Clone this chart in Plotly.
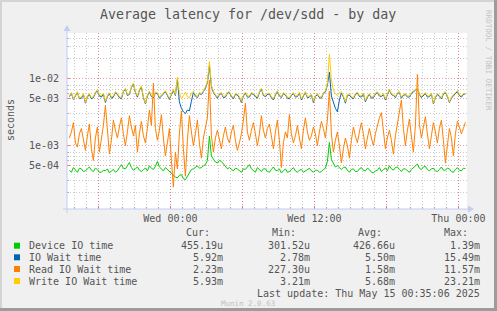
import math
import plotly.graph_objects as go
from datetime import datetime, timedelta

# ---------------- data (10-minute samples, values in milliseconds) ----------------
start_time = datetime(2025, 5, 13, 15, 35)
step_minutes = 10

device_io_ms = [0.43, 0.40, 0.47, 0.44, 0.40, 0.46, 0.45, 0.41, 0.42, 0.45, 0.48, 0.43, 0.41, 0.46, 0.44, 0.40, 0.40, 0.43, 0.42, 0.45,
                0.39, 0.42, 0.44, 0.40, 0.42, 0.47, 0.52, 0.46, 0.45, 0.50, 0.56, 0.47, 0.43, 0.45, 0.48, 0.43, 0.41, 0.44, 0.46, 0.42,
                0.50, 0.46, 0.44, 0.49, 0.58, 0.48, 0.45, 0.42, 0.47, 0.44, 0.40, 0.38, 0.36, 0.34, 0.33, 0.36, 0.37, 0.32, 0.31, 0.35,
                0.40, 0.44, 0.45, 0.48, 0.50, 0.46, 0.47, 0.50, 0.52, 0.60, 1.39, 0.70, 0.62, 0.57, 0.55, 0.60, 0.58, 0.53, 0.50, 0.45,
                0.47, 0.44, 0.42, 0.46, 0.45, 0.42, 0.40, 0.45, 0.44, 0.48, 0.52, 0.45, 0.43, 0.40, 0.47, 0.43, 0.41, 0.45, 0.45, 0.41,
                0.40, 0.44, 0.48, 0.43, 0.42, 0.45, 0.39, 0.42, 0.45, 0.40, 0.41, 0.44, 0.47, 0.42, 0.40, 0.43, 0.44, 0.40, 0.42, 0.45,
                0.46, 0.42, 0.40, 0.43, 0.43, 0.40, 0.41, 0.44, 0.46, 0.58, 1.12, 0.62, 0.55, 0.48, 0.50, 0.46, 0.44, 0.47, 0.48, 0.43,
                0.40, 0.44, 0.45, 0.41, 0.41, 0.45, 0.47, 0.43, 0.42, 0.46, 0.44, 0.40, 0.39, 0.42, 0.43, 0.47, 0.41, 0.44, 0.46, 0.42,
                0.50, 0.45, 0.43, 0.47, 0.48, 0.44, 0.41, 0.45, 0.45, 0.42, 0.40, 0.44, 0.47, 0.50, 0.53, 0.46, 0.44, 0.48, 0.49, 0.44,
                0.42, 0.45, 0.46, 0.42, 0.41, 0.44, 0.48, 0.43, 0.43, 0.46, 0.45, 0.41, 0.40, 0.44, 0.47, 0.43, 0.42, 0.46, 0.455]

io_wait_ms = [5.4, 6.0, 4.9, 5.6, 6.2, 5.0, 5.1, 5.8, 4.3, 5.3, 5.8, 5.0, 5.2, 6.1, 6.6, 5.5, 5.3, 5.9, 4.4, 5.4,
              6.0, 5.1, 5.3, 6.2, 5.8, 5.2, 5.0, 6.4, 7.0, 5.6, 5.8, 7.4, 8.3, 6.2, 5.3, 6.7, 7.5, 5.2, 4.2, 5.5,
              6.3, 5.4, 5.2, 6.1, 6.0, 5.1, 5.4, 5.9, 6.4, 5.5, 4.9, 5.8, 6.6, 5.6, 9.8, 4.5, 3.6, 3.2, 3.0, 3.4,
              3.3, 4.6, 6.2, 5.5, 5.2, 6.0, 5.8, 6.4, 7.2, 8.7, 15.5, 7.7, 6.2, 5.6, 5.1, 5.8, 6.0, 5.2, 5.3, 6.1,
              6.2, 5.4, 5.0, 5.8, 5.7, 5.2, 4.4, 5.5, 6.1, 5.3, 5.3, 6.0, 5.8, 5.4, 5.1, 6.2, 7.0, 5.6, 5.4, 5.8,
              5.9, 5.2, 4.8, 5.7, 6.4, 5.5, 5.2, 6.0, 5.7, 5.1, 5.0, 5.6, 6.0, 5.3, 5.4, 6.1, 4.8, 5.5, 6.2, 5.2,
              5.3, 5.7, 4.4, 5.4, 5.8, 5.2, 5.1, 6.0, 6.3, 8.0, 12.5, 5.5, 4.4, 3.6, 3.2, 4.8, 6.1, 5.3, 4.3, 5.6,
              5.7, 5.2, 5.0, 5.8, 6.1, 5.4, 5.3, 5.9, 4.5, 5.3, 5.8, 5.1, 5.2, 5.9, 6.2, 5.5, 5.4, 5.8, 4.8, 5.7,
              6.8, 5.8, 5.6, 5.2, 6.0, 6.2, 5.1, 5.6, 5.8, 5.3, 5.3, 6.0, 6.3, 6.7, 7.2, 5.8, 5.2, 5.5, 6.0, 5.3,
              5.4, 5.9, 4.2, 5.2, 5.8, 5.4, 5.0, 5.9, 6.2, 5.4, 4.4, 5.1, 5.6, 6.0, 6.4, 5.6, 5.3, 5.8, 5.92]

read_io_wait_ms = [1.3, 1.6, 2.2, 1.1, 0.95, 1.5, 1.8, 1.2, 0.85, 1.4, 2.1, 0.9, 0.6, 1.3, 1.9, 0.8, 1.2, 2.0, 4.0, 1.5,
                   0.75, 1.2, 2.4, 1.7, 1.3, 1.9, 2.6, 1.5, 1.0, 1.6, 2.8, 1.9, 1.4, 2.0, 0.8, 1.5, 2.3, 1.4, 1.1, 1.8,
                   3.4, 2.0, 8.5, 1.8, 1.2, 1.7, 2.9, 1.3, 0.7, 1.1, 1.8, 0.6, 0.24, 0.8, 0.45, 1.5, 3.3, 0.9, 0.35, 1.2,
                   2.8, 1.6, 1.0, 1.5, 2.4, 1.1, 0.65, 1.3, 1.9, 2.6, 9.5, 1.4, 0.8, 1.3, 1.7, 1.2, 0.9, 1.4, 1.9, 1.3,
                   1.1, 1.6, 2.0, 1.2, 0.85, 1.1, 1.5, 2.4, 4.3, 1.6, 1.2, 1.7, 2.2, 1.5, 1.0, 1.5, 2.8, 1.7, 1.3, 1.8,
                   2.1, 1.4, 0.9, 1.6, 2.4, 1.2, 0.47, 1.1, 1.6, 1.3, 2.9, 1.5, 1.1, 1.4, 2.0, 1.3, 0.9, 1.7, 2.6, 1.6,
                   1.2, 1.4, 1.9, 1.5, 1.0, 1.6, 2.3, 1.8, 1.3, 2.4, 6.5, 1.5, 0.8, 1.2, 1.6, 1.0, 0.55, 0.9, 1.3, 1.0,
                   0.65, 1.2, 1.9, 1.4, 1.1, 1.6, 2.2, 1.5, 0.9, 1.3, 1.8, 1.3, 1.0, 1.5, 2.0, 2.6, 3.1, 1.6, 0.9, 1.3,
                   1.7, 1.2, 0.75, 1.4, 2.1, 2.9, 4.8, 1.8, 1.0, 1.7, 2.5, 1.4, 0.8, 2.0, 11.57, 2.1, 1.3, 1.9, 2.7, 1.5,
                   0.9, 1.4, 2.2, 1.6, 1.1, 1.8, 2.4, 1.2, 0.55, 1.0, 1.8, 1.3, 0.7, 1.5, 2.3, 1.9, 1.5, 1.8, 2.23]

write_io_wait_ms = [5.6, 6.2, 5.0, 5.8, 6.4, 5.1, 5.3, 6.0, 4.4, 5.5, 6.0, 5.2, 5.4, 6.3, 6.8, 5.7, 5.6, 6.1, 4.6, 5.6,
                    6.2, 5.3, 5.5, 6.4, 6.0, 5.4, 5.2, 6.6, 7.2, 5.8, 6.0, 7.6, 8.6, 6.4, 5.5, 6.9, 7.8, 5.4, 4.3, 5.7,
                    6.5, 5.6, 5.4, 6.3, 6.2, 5.3, 5.6, 6.1, 6.6, 5.7, 5.1, 6.0, 6.9, 5.8, 10.5, 6.2, 5.0, 5.6, 6.3, 5.4,
                    5.2, 6.1, 6.5, 5.7, 5.4, 6.2, 6.0, 6.6, 7.5, 9.0, 18.0, 8.0, 6.5, 5.8, 5.3, 6.0, 6.2, 5.4, 5.5, 6.3,
                    6.4, 5.6, 5.2, 6.0, 5.9, 5.4, 4.6, 5.7, 6.3, 5.5, 5.5, 6.2, 6.0, 5.6, 5.3, 6.4, 7.2, 5.8, 5.6, 6.0,
                    6.1, 5.4, 5.0, 5.9, 6.6, 5.7, 5.4, 6.2, 5.9, 5.3, 5.2, 5.8, 6.2, 5.5, 5.6, 6.3, 5.0, 5.7, 6.4, 5.4,
                    5.5, 5.9, 4.6, 5.6, 6.0, 5.4, 5.3, 6.2, 6.5, 8.5, 23.2, 9.5, 6.8, 5.9, 5.6, 6.2, 6.4, 5.5, 4.5, 5.8,
                    5.9, 5.4, 5.2, 6.0, 6.3, 5.6, 5.5, 6.1, 4.7, 5.5, 6.0, 5.3, 5.4, 6.1, 6.4, 5.7, 5.6, 6.0, 5.0, 5.9,
                    7.0, 6.0, 5.8, 5.4, 6.2, 6.4, 5.3, 5.8, 6.0, 5.5, 5.5, 6.2, 6.5, 6.9, 7.4, 6.0, 5.4, 5.7, 6.2, 5.5,
                    5.6, 6.1, 4.3, 5.4, 6.0, 5.6, 5.2, 6.1, 6.4, 5.6, 4.5, 5.3, 5.8, 6.2, 6.6, 5.8, 5.5, 6.0, 5.93]

series_names = ["Device IO time", "IO Wait time", "Read IO Wait time", "Write IO Wait time"]
series_colors = ["#00CC00", "#0066B3", "#FF8000", "#FFCC00"]
cur_vals = ["455.19u", "5.92m", "2.23m", "5.93m"]
min_vals = ["301.52u", "2.78m", "227.30u", "3.21m"]
avg_vals = ["426.66u", "5.50m", "1.58m", "5.68m"]
max_vals = ["1.39m", "15.49m", "11.57m", "23.21m"]

x_tick_vals = [datetime(2025, 5, 13, 18), datetime(2025, 5, 14, 0), datetime(2025, 5, 14, 6),
               datetime(2025, 5, 14, 12), datetime(2025, 5, 14, 18), datetime(2025, 5, 15, 0)]
x_tick_text = ["", "Wed 00:00", "", "Wed 12:00", "", "Thu 00:00"]
y_tick_vals = [5e-4, 1e-3, 5e-3, 1e-2]
y_tick_text = ["5e-04", "1e-03", "5e-03", "1e-02"]
y_minor_vals = [2e-4, 3e-4, 6e-4, 7e-4, 8e-4, 2e-3, 3e-3, 6e-3, 7e-3, 8e-3, 2e-2, 3e-2, 4e-2]

# ---------------- figure ----------------
all_series = [device_io_ms, io_wait_ms, read_io_wait_ms, write_io_wait_ms]

W, H = 497, 311
PL, PR, PT, PB = 67, 467, 33, 209


def X(px):
    return (px - PL) / (PR - PL)


def Y(py):
    return (PB - py) / (PB - PT)


MONO = "DejaVu Sans Mono"
TXT = "#555555"

fig = go.Figure()
for name, color, vals in zip(series_names, series_colors, all_series):
    times = [start_time + timedelta(minutes=step_minutes * i) for i in range(len(vals))]
    fig.add_trace(go.Scatter(x=times, y=[v * 1e-3 for v in vals], mode="lines", name=name,
                             line=dict(color=color, width=1), hoverinfo="skip"))

fig.update_layout(
    width=W, height=H,
    margin=dict(l=PL, r=W - PR, t=PT, b=H - PB),
    paper_bgcolor="#F0F0F0", plot_bgcolor="#FFFFFF",
    showlegend=False,
    font=dict(family=MONO, size=10, color=TXT),
)
fig.update_xaxes(
    type="date",
    range=[datetime(2025, 5, 13, 15, 23), datetime(2025, 5, 15, 0, 43)],
    tickmode="array", tickvals=x_tick_vals, ticktext=x_tick_text,
    showgrid=True, gridcolor="rgba(235,80,80,0.55)", griddash="1px,2px", gridwidth=1,
    ticks="inside", ticklen=3, tickcolor="rgba(235,80,80,0.7)",
    minor=dict(dtick=3600000, tick0="2025-05-13 00:00", showgrid=True,
               gridcolor="rgba(150,150,150,0.5)", griddash="1px,2px", gridwidth=1,
               ticks="inside", ticklen=2, tickcolor="rgba(150,150,150,0.7)"),
    showline=False, zeroline=False, ticklabelstandoff=2,
    tickfont=dict(family=MONO, size=10, color=TXT),
)
fig.update_yaxes(
    type="log", range=[-3.946, -1.319],
    tickmode="array", tickvals=y_tick_vals, ticktext=y_tick_text, showticklabels=False,
    showgrid=True, gridcolor="rgba(235,80,80,0.55)", griddash="1px,2px", gridwidth=1,
    ticks="inside", ticklen=3, tickcolor="rgba(235,80,80,0.7)",
    minor=dict(tickmode="array", tickvals=y_minor_vals, showgrid=True,
               gridcolor="rgba(150,150,150,0.5)", griddash="1px,2px", gridwidth=1,
               ticks="inside", ticklen=2, tickcolor="rgba(150,150,150,0.7)"),
    showline=False, zeroline=False,
)

shapes = []
AX = "#C4CCF4"
# axes with arrows
shapes.append(dict(type="line", xref="paper", yref="paper", x0=X(63), x1=X(469), y0=Y(209), y1=Y(209),
                   line=dict(color=AX, width=1)))
shapes.append(dict(type="path", xref="paper", yref="paper",
                   path=f"M {X(468)} {Y(205.5)} L {X(474)} {Y(209)} L {X(468)} {Y(212.5)} Z",
                   fillcolor=AX, line=dict(color=AX, width=0)))
shapes.append(dict(type="line", xref="paper", yref="paper", x0=X(67), x1=X(67), y0=Y(213), y1=Y(30),
                   line=dict(color=AX, width=1)))
shapes.append(dict(type="path", xref="paper", yref="paper",
                   path=f"M {X(63.5)} {Y(31)} L {X(67)} {Y(25)} L {X(70.5)} {Y(31)} Z",
                   fillcolor=AX, line=dict(color=AX, width=0)))
# frame of the image
shapes.append(dict(type="rect", xref="paper", yref="paper", x0=X(494), x1=X(497), y0=Y(0), y1=Y(311),
                   fillcolor="#9C9C9C", line=dict(width=0)))
shapes.append(dict(type="rect", xref="paper", yref="paper", x0=X(0), x1=X(497), y0=Y(308), y1=Y(311),
                   fillcolor="#9C9C9C", line=dict(width=0)))
shapes.append(dict(type="rect", xref="paper", yref="paper", x0=X(0), x1=X(2), y0=Y(0), y1=Y(308),
                   fillcolor="#D4D4D4", line=dict(width=0)))
shapes.append(dict(type="rect", xref="paper", yref="paper", x0=X(0), x1=X(494), y0=Y(0), y1=Y(2),
                   fillcolor="#D4D4D4", line=dict(width=0)))

annotations = []


def txt(text, px, py, xanchor="left", size=10, color=TXT, angle=0, yanchor="middle"):
    annotations.append(dict(text=text, x=X(px), y=Y(py), xref="paper", yref="paper",
                            xanchor=xanchor, yanchor=yanchor, showarrow=False, textangle=angle,
                            font=dict(family=MONO, size=size, color=color)))


# y tick labels placed through the y axis scale
for v, t in zip(y_tick_vals, y_tick_text):
    annotations.append(dict(text=t, x=X(61), y=math.log10(v), xref="paper", yref="y",
                            xanchor="right", yanchor="middle", showarrow=False,
                            font=dict(family=MONO, size=10, color=TXT)))

txt("Average latency for /dev/sdd - by day", 248, 14, xanchor="center", size=13.3)
txt("seconds", 11, 120, xanchor="center", angle=-90)
txt("RRDTOOL / TOBI OETIKER", 489, 60, xanchor="center", size=7.6, color="#C4C4C4", angle=90)

row_y = [245.7, 257.3, 269.0, 281.0]
txt("Cur:", 212, 232.3, xanchor="right")
txt("Min:", 298, 232.3, xanchor="right")
txt("Avg:", 383.5, 232.3, xanchor="right")
txt("Max:", 470, 232.3, xanchor="right")
for i, (name, color) in enumerate(zip(series_names, series_colors)):
    yy = row_y[i]
    shapes.append(dict(type="rect", xref="paper", yref="paper", x0=X(14), x1=X(20), y0=Y(yy - 3), y1=Y(yy + 3),
                       fillcolor=color, line=dict(width=0)))
    txt(name, 26.5, yy)
    txt(cur_vals[i], 225, yy, xanchor="right")
    txt(min_vals[i], 311.7, yy, xanchor="right")
    txt(avg_vals[i], 396.7, yy, xanchor="right")
    txt(max_vals[i], 482.3, yy, xanchor="right")
txt("Last update: Thu May 15 00:35:06 2025", 482.3, 293.0, xanchor="right")
txt("Munin 2.0.63", 247.5, 303.0, xanchor="center", size=7.5, color="#C0C0C0")

fig.update_layout(shapes=shapes, annotations=annotations)
fig.write_html("out.html", config={"displayModeBar": False})
